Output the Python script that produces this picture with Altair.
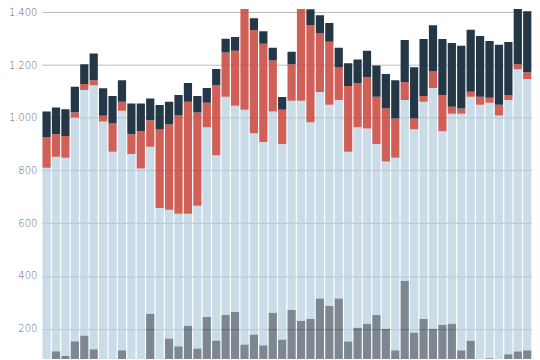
import altair as alt
import pandas as pd

bars = list(range(1, 53))
series = ["Grau", "Hellblau", "Rot", "Dunkelblau"]
colors = ["#243747", "#b5cfdf", "#c9473d", "#243747"]

gray = [60, 114, 96, 152, 174, 122, 50, 50, 118, 40, 85, 256, 84, 163, 133, 211, 125, 244,
        155, 252, 263, 140, 178, 137, 260, 159, 271, 230, 237, 315, 286, 315, 152, 204, 219,
        252, 200, 118, 382, 185, 237, 200, 215, 219, 118, 155, 40, 88, 40, 103, 114, 118]
blue = [751, 738, 753, 849, 932, 1002, 936, 821, 909, 823, 723, 634, 574, 488, 503, 425, 541,
        720, 703, 828, 783, 891, 764, 771, 764, 742, 794, 835, 746, 783, 764, 753, 719, 760,
        741, 649, 634, 731, 686, 772, 824, 913, 734, 797, 898, 925, 1010, 969, 969, 965, 1070,
        1029]
red = [116, 86, 82, 20, 22, 19, 22, 108, 34, 75, 142, 101, 298, 324, 373, 425, 354, 93, 267,
       168, 209, 430, 391, 373, 194, 130, 138, 390, 369, 224, 239, 123, 250, 168, 194, 179,
       201, 149, 67, 41, 22, 63, 138, 26, 19, 19, 30, 19, 41, 19, 19, 26]
navy = [97, 101, 102, 97, 75, 101, 104, 104, 82, 116, 104, 82, 93, 86, 78, 71, 63, 56, 60, 52,
        52, 50, 45, 48, 48, 48, 48, 50, 60, 67, 71, 75, 86, 89, 101, 119, 131, 145, 160, 194,
        216, 175, 212, 242, 239, 235, 231, 216, 227, 201, 260, 231]
ticks = [200, 400, 600, 800, 1000, 1200, 1400]

rows = []
for i, b in enumerate(bars):
    for k, (name, vals) in enumerate(zip(series, [gray, blue, red, navy])):
        rows.append({"bar": b, "series": name, "ord": k, "value": vals[i]})
df = pd.DataFrame(rows)

chart = alt.Chart(df).mark_bar(clip=True).encode(
    x=alt.X("bar:O", axis=None,
            scale=alt.Scale(paddingInner=0.128, paddingOuter=0.07)),
    y=alt.Y("value:Q", stack="zero",
            scale=alt.Scale(domain=[85, 1413], nice=False, zero=False),
            axis=alt.Axis(values=ticks, title=None, domain=False, ticks=False,
                          labelExpr="replace(format(datum.value, ','), ',', '.')",
                          gridColor="#bbbbbb", gridWidth=1, labelPadding=5,
                          labelFont="DejaVu Sans", labelFontWeight=200,
                          labelFontSize=10, labelColor="#5a6570")),
    color=alt.Color("series:N", scale=alt.Scale(domain=series, range=colors), legend=None),
    opacity=alt.Opacity("series:N", scale=alt.Scale(domain=series, range=[0.6, 1, 1, 1]),
                        legend=None),
    order=alt.Order("ord:Q"),
).properties(
    width=493, height=352,
    autosize=alt.AutoSizeParams(type="none"),
    padding={"left": 34, "top": 0, "right": 0, "bottom": 0},
).configure_view(stroke=None)

chart.save("out.html", embed_options={"renderer": "svg", "actions": False})
